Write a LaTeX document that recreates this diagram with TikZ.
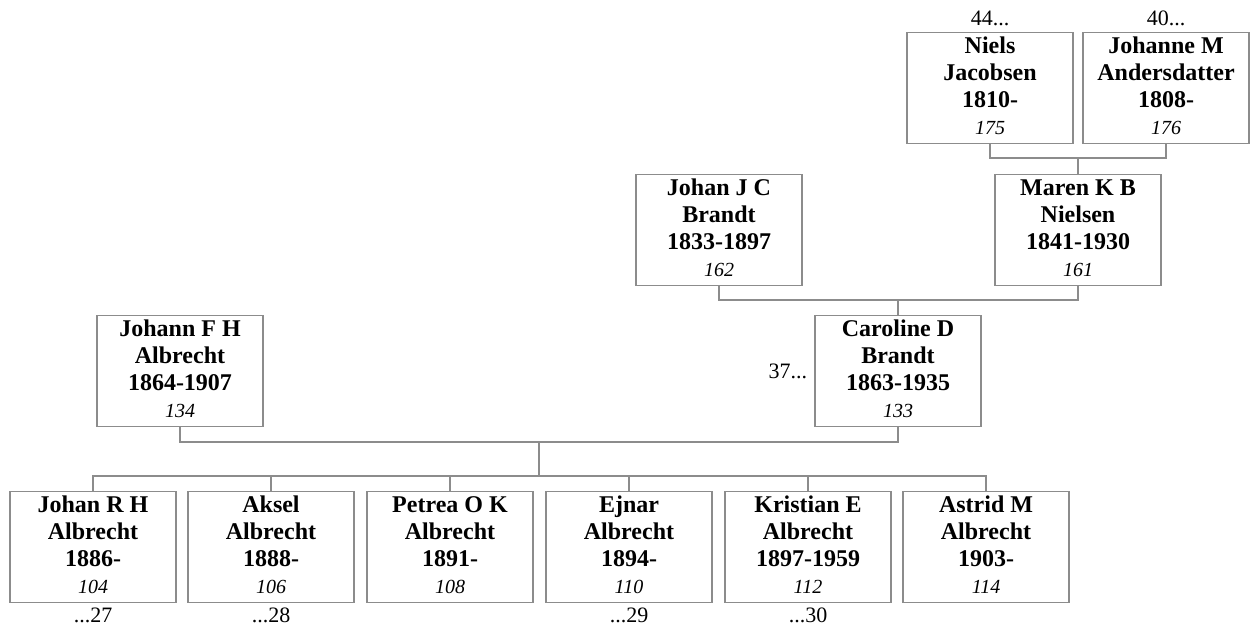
\documentclass[tikz,border=0pt]{standalone}
\usepackage{fontspec}
\setmainfont{Liberation Serif}
\definecolor{lc}{RGB}{140,140,140}
\tikzset{
  pbox/.style={draw=lc, line width=1.3pt, minimum width=166pt, minimum height=110pt,
    inner xsep=2pt, inner ysep=1pt, align=center,
    font=\fontsize{24}{27}\selectfont\bfseries},
  conn/.style={draw=lc, line width=1.1pt},
  lbl/.style={font=\fontsize{22}{26}\selectfont, inner sep=0pt},
}
\newcommand{\pers}[4]{\rule{0pt}{20pt}#1\\#2\\#3\\{\fontsize{20}{27}\selectfont\mdseries\itshape #4}\rule[-8pt]{0pt}{8pt}}
\begin{document}
\begin{tikzpicture}[x=1pt,y=-1pt]
\useasboundingbox (0,0) rectangle (1254,626);
% generation 1
\node[pbox] (niels) at (990,88) {\pers{Niels}{Jacobsen}{1810-}{175}};
\node[pbox] (johanne) at (1166,88) {\pers{Johanne M}{Andersdatter}{1808-}{176}};
% generation 2
\node[pbox] (johanjc) at (719,230) {\pers{Johan J C}{Brandt}{1833-1897}{162}};
\node[pbox] (maren) at (1078,230) {\pers{Maren K B}{Nielsen}{1841-1930}{161}};
% generation 3
\node[pbox] (johann) at (180,371) {\pers{Johann F H}{Albrecht}{1864-1907}{134}};
\node[pbox] (caroline) at (898,371) {\pers{Caroline D}{Brandt}{1863-1935}{133}};
% children
\node[pbox] (c1) at (93,547) {\pers{Johan R H}{Albrecht}{1886-}{104}};
\node[pbox] (c2) at (271,547) {\pers{Aksel}{Albrecht}{1888-}{106}};
\node[pbox] (c3) at (450,547) {\pers{Petrea O K}{Albrecht}{1891-}{108}};
\node[pbox] (c4) at (629,547) {\pers{Ejnar}{Albrecht}{1894-}{110}};
\node[pbox] (c5) at (808,547) {\pers{Kristian E}{Albrecht}{1897-1959}{112}};
\node[pbox] (c6) at (986,547) {\pers{Astrid M}{Albrecht}{1903-}{114}};
% labels
\node[lbl, anchor=base, yshift=6pt] (l44) at (niels.north) {44...};
\node[lbl, anchor=base, yshift=6pt] (l40) at (johanne.north) {40...};
\node[lbl, anchor=east, xshift=-7pt] (l37) at (caroline.west) {37...};
\node[lbl, anchor=base, yshift=-19pt] (l27) at (c1.south) {...27};
\node[lbl, anchor=base, yshift=-19pt] (l28) at (c2.south) {...28};
\node[lbl, anchor=base, yshift=-19pt] (l29) at (c4.south) {...29};
\node[lbl, anchor=base, yshift=-19pt] (l30) at (c5.south) {...30};
% connectors
\coordinate (j1) at (1078,158);
\coordinate (j2) at (898,300);
\coordinate (j3) at (539,442);
\coordinate (k) at (539,476);
\draw[conn] (niels.south) |- (j1) -| (johanne.south);
\draw[conn] (j1) -- (maren.north);
\draw[conn] (johanjc.south) |- (j2) -| (maren.south);
\draw[conn] (j2) -- (caroline.north);
\draw[conn] (johann.south) |- (j3) -| (caroline.south);
\draw[conn] (j3) -- (k);
\draw[conn] (c1.north) |- (k) -| (c6.north);
\draw[conn] (c2.north) -- (c2.north |- k);
\draw[conn] (c3.north) -- (c3.north |- k);
\draw[conn] (c4.north) -- (c4.north |- k);
\draw[conn] (c5.north) -- (c5.north |- k);
\end{tikzpicture}
\end{document}
